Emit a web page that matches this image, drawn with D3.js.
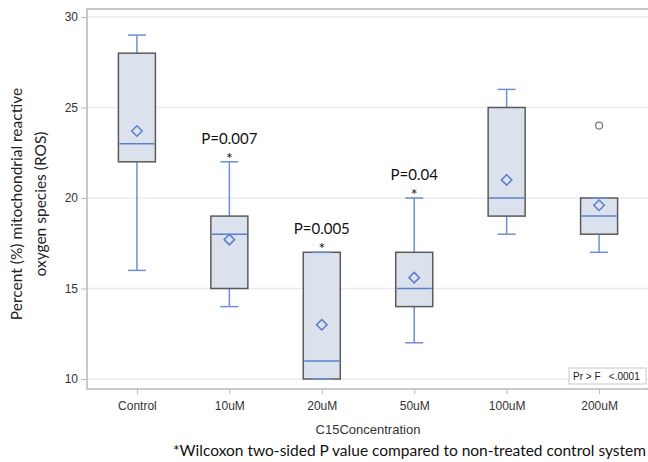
<!DOCTYPE html>
<html>
<head>
<meta charset="utf-8">
<script src="https://cdn.jsdelivr.net/npm/d3@7"></script>
<style>
  body { margin: 0; background: #fff; }
  svg { display: block; }
</style>
</head>
<body>
<svg id="chart" width="648" height="462"></svg>
<script>
const categories = ['Control', '10uM', '20uM', '50uM', '100uM', '200uM'];
const whiskerLow = [16, 14, 10, 12, 18, 17];
const q1 = [22, 15, 10, 14, 19, 18];
const median = [23, 18, 11, 15, 20, 19];
const q3 = [28, 19, 17, 17, 25, 20];
const whiskerHigh = [29, 22, 17, 20, 26, 20];
const means = [23.7, 17.7, 13, 15.6, 21, 19.6];
const outlierCats = ['200uM'];
const outlierValues = [24];
const pLabels = ['', 'P=0.007', 'P=0.005', 'P=0.04', '', ''];
const yTicks = [10, 15, 20, 25, 30];

const svg = d3.select('#chart');
const plotLeft = 87, plotRight = 649, plotTop = 9, plotBottom = 389;

const x = d3.scalePoint().domain(categories).range([plotLeft, plotRight]).padding(0.54);
const y = d3.scaleLinear().domain([10, 30]).range([379, 17]);

const boxW = 37, capW = 18;
const blue = '#6f8fd0';
const sansAxis = 'Liberation Sans, Arial, sans-serif';
const sansText = 'Lato, Noto Sans, sans-serif';

// gridlines
svg.append('g')
  .selectAll('line')
  .data(yTicks)
  .join('line')
  .attr('x1', plotLeft).attr('x2', plotRight)
  .attr('y1', d => y(d)).attr('y2', d => y(d))
  .attr('stroke', '#ebebeb')
  .attr('stroke-width', 1.5);

// frame
svg.append('rect')
  .attr('x', plotLeft).attr('y', plotTop)
  .attr('width', plotRight - plotLeft).attr('height', plotBottom - plotTop)
  .attr('fill', 'none')
  .attr('stroke', '#b8b8b8')
  .attr('stroke-width', 1.5);

// axes
const yAxis = svg.append('g')
  .attr('transform', `translate(${plotLeft},0)`)
  .call(d3.axisLeft(y).tickValues(yTicks).tickSize(6).tickPadding(3));
const xAxis = svg.append('g')
  .attr('transform', `translate(0,${plotBottom})`)
  .call(d3.axisBottom(x).tickSize(5).tickPadding(7));
[yAxis, xAxis].forEach(a => {
  a.select('.domain').remove();
  a.selectAll('line').attr('stroke', '#b8b8b8');
  a.selectAll('text').attr('fill', '#333').style('font-family', sansAxis).style('font-size', '12px');
});

const g = svg.append('g');
const rows = categories.map((c, i) => ({ c, i }));

// whiskers
g.selectAll('.stem')
  .data(rows)
  .join('g')
  .each(function (d) {
    const el = d3.select(this), cx = x(d.c);
    el.append('line').attr('x1', cx).attr('x2', cx)
      .attr('y1', y(whiskerHigh[d.i])).attr('y2', y(q3[d.i]));
    el.append('line').attr('x1', cx).attr('x2', cx)
      .attr('y1', y(q1[d.i])).attr('y2', y(whiskerLow[d.i]));
  })
  .attr('stroke', blue).attr('stroke-width', 1.5);

// boxes
g.selectAll('.box')
  .data(rows)
  .join('rect')
  .attr('x', d => x(d.c) - boxW / 2)
  .attr('width', boxW)
  .attr('y', d => y(q3[d.i]))
  .attr('height', d => y(q1[d.i]) - y(q3[d.i]))
  .attr('fill', '#dbe2ee')
  .attr('stroke', '#5a5a5a')
  .attr('stroke-width', 1.5);

// caps
g.selectAll('.cap')
  .data(rows.flatMap(d => [whiskerHigh[d.i], whiskerLow[d.i]].map(v => ({ c: d.c, v }))))
  .join('line')
  .attr('x1', d => x(d.c) - capW / 2).attr('x2', d => x(d.c) + capW / 2)
  .attr('y1', d => y(d.v)).attr('y2', d => y(d.v))
  .attr('stroke', blue).attr('stroke-width', 1.5);

// medians
g.selectAll('.median')
  .data(rows)
  .join('line')
  .attr('x1', d => x(d.c) - boxW / 2 + 1).attr('x2', d => x(d.c) + boxW / 2 - 1)
  .attr('y1', d => y(median[d.i])).attr('y2', d => y(median[d.i]))
  .attr('stroke', '#5b80c8').attr('stroke-width', 1.5);

// means
g.selectAll('.mean')
  .data(rows)
  .join('path')
  .attr('d', d3.symbol(d3.symbolDiamond2, 70))
  .attr('transform', d => `translate(${x(d.c)},${y(means[d.i])})`)
  .attr('fill', 'none')
  .attr('stroke', '#5b7fc8')
  .attr('stroke-width', 1.5);

// outliers
g.selectAll('.outlier')
  .data(outlierCats.map((c, i) => ({ c, v: outlierValues[i] })))
  .join('circle')
  .attr('cx', d => x(d.c)).attr('cy', d => y(d.v))
  .attr('r', 3.5)
  .attr('fill', 'none').attr('stroke', '#777').attr('stroke-width', 1.2);

// p-value annotations
const ann = rows.filter(d => pLabels[d.i]);
g.selectAll('.plabel')
  .data(ann)
  .join('text')
  .attr('x', d => x(d.c))
  .attr('y', d => y(whiskerHigh[d.i]) - 18)
  .attr('text-anchor', 'middle')
  .style('font-family', sansText).style('font-size', '15px')
  .attr('fill', '#111')
  .text(d => pLabels[d.i]);
g.selectAll('.star')
  .data(ann)
  .join('text')
  .attr('x', d => x(d.c))
  .attr('y', d => y(whiskerHigh[d.i]) + 2)
  .attr('text-anchor', 'middle')
  .style('font-family', sansText).style('font-size', '16px')
  .attr('fill', '#111')
  .text('*');

// inset
svg.append('rect')
  .attr('x', 569).attr('y', 368).attr('width', 77).attr('height', 16)
  .attr('fill', '#fff').attr('stroke', '#c8c8c8');
svg.append('text')
  .attr('x', 573).attr('y', 380)
  .style('font-family', sansAxis).style('font-size', '10px')
  .attr('fill', '#222')
  .attr('xml:space', 'preserve')
  .text('Pr > F   <.0001');

// axis titles
svg.append('text')
  .attr('x', 368).attr('y', 434)
  .attr('text-anchor', 'middle')
  .style('font-family', sansAxis).style('font-size', '13px')
  .attr('fill', '#333')
  .text('C15Concentration');

const yt = svg.append('text')
  .attr('transform', 'translate(0,204) rotate(-90)')
  .attr('text-anchor', 'middle')
  .style('font-family', sansText).style('font-size', '15.5px')
  .attr('fill', '#222');
yt.append('tspan').attr('x', 0).attr('y', 22).text('Percent (%) mitochondrial reactive');
yt.append('tspan').attr('x', 0).attr('y', 46).text('oxygen species (ROS)');

svg.append('text')
  .attr('x', 646).attr('y', 456)
  .attr('text-anchor', 'end')
  .style('font-family', sansText).style('font-size', '15.5px')
  .attr('fill', '#111')
  .text('*Wilcoxon two-sided P value compared to non-treated control system');
</script>
</body>
</html>
